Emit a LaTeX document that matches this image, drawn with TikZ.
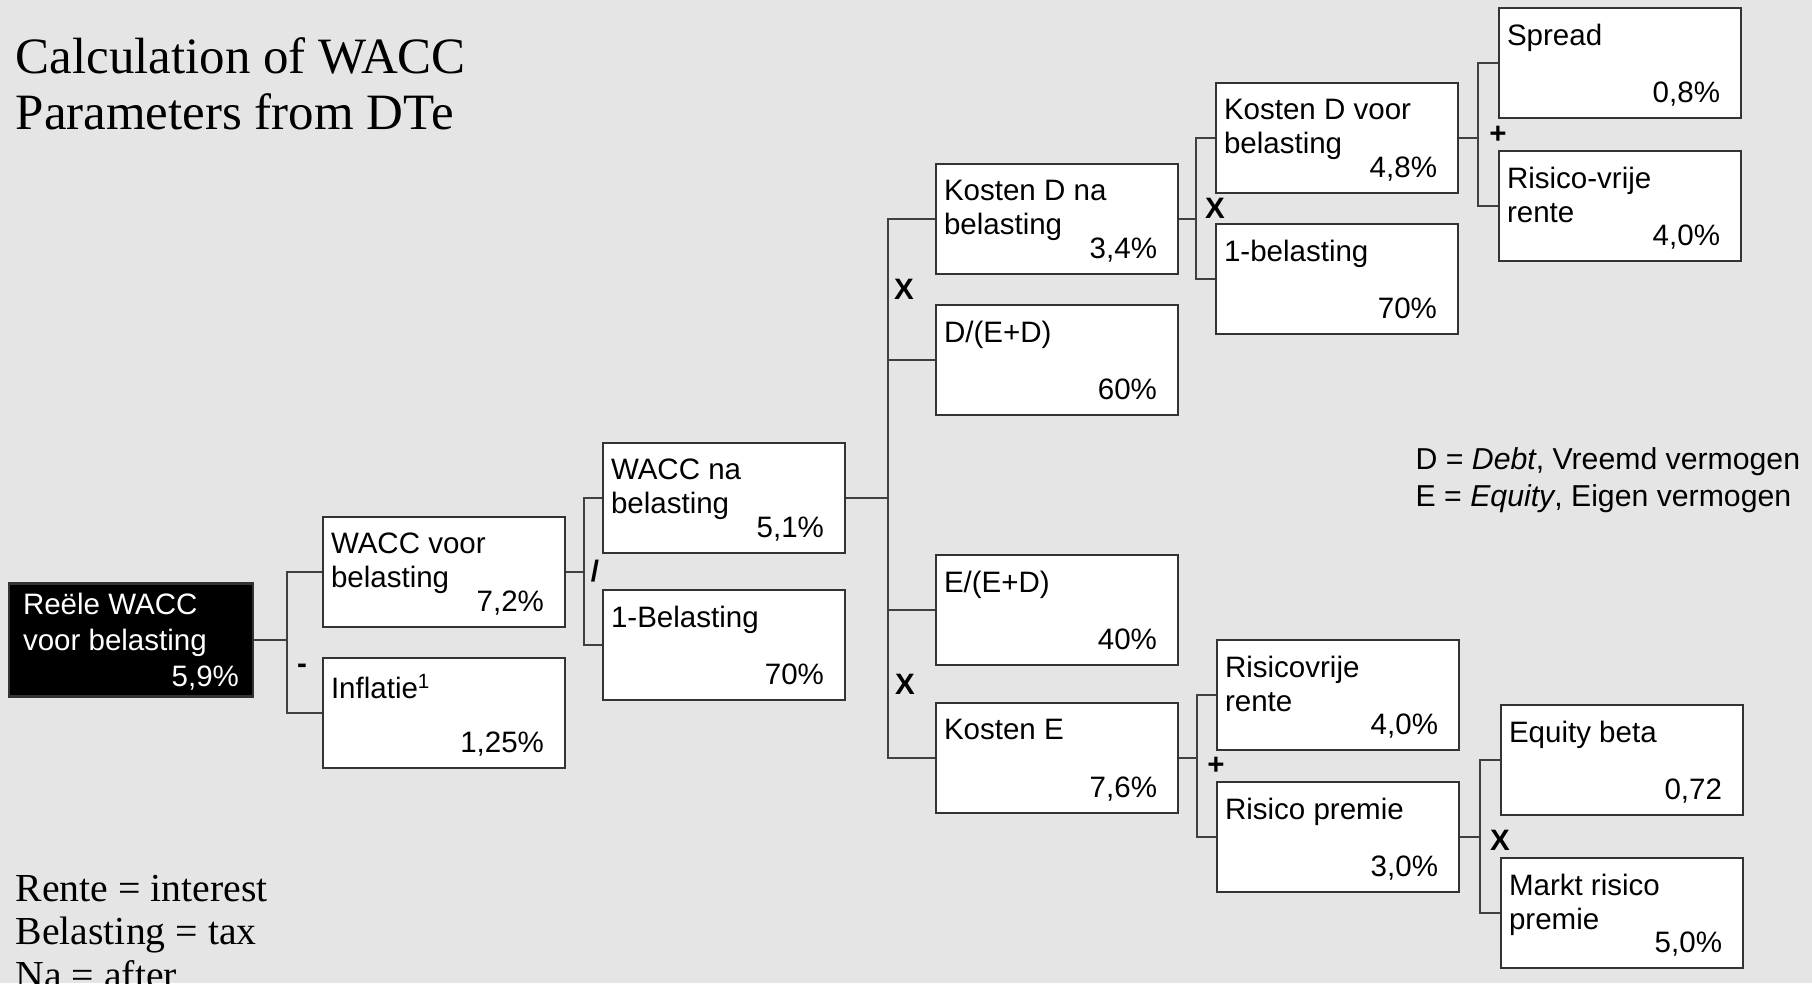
\documentclass[tikz,border=0pt]{standalone}
\usepackage{fontspec}
\usetikzlibrary{calc}
\newfontfamily\boxfont{Liberation Sans}
\newfontfamily\notefont{Liberation Serif}
% label top left, value bottom right
\newcommand{\kval}[2]{\parbox[c][0.78cm][s]{2.26cm}{\raggedright #1\par\nointerlineskip\vfill
  \makebox[\linewidth][r]{\smash{#2}\hspace*{0.13cm}}}}

\begin{document}
\begin{tikzpicture}[node distance=1.41cm,
  box/.style={draw=black!80, line width=0.6pt, fill=white, minimum width=2.42cm, minimum height=1.10cm,
    inner sep=0pt, font=\boxfont\fontsize{8.4pt}{9.7pt}\selectfont},
  rootbox/.style={box, fill=black, text=white, minimum width=2.44cm, minimum height=1.13cm},
  op/.style={inner sep=0pt, font=\boxfont\bfseries\fontsize{8.4pt}{9.7pt}\selectfont},
  link/.style={draw=black!75, line width=0.6pt}]
  \useasboundingbox (0,0) rectangle (18.12,-9.83);
  \fill[black!10] (0,0) rectangle (18.12,-9.83);

  \node[anchor=north west, align=left, inner sep=0pt, font=\notefont\fontsize{14.5pt}{15.9pt}\selectfont] (title)
    at (0.15,-0.37) {Calculation of WACC\\Parameters from DTe};

  \node[rootbox] (root) at (1.31,-6.40) {\parbox[c][0.93cm][t]{2.16cm}{\fontsize{8.4pt}{10.2pt}\selectfont
    Reële WACC\\voor belasting\\\makebox[\linewidth][r]{5,9\%}}};

  \node[box] (wvoor) at (4.44,-5.72) {\kval{WACC voor\\belasting}{7,2\%}};
  \node[box, below of=wvoor] (infl) {\kval{Inflatie\textsuperscript{1}}{1,25\%}};

  \node[box] (wna) at (7.24,-4.98) {\kval{WACC na\\belasting}{5,1\%}};
  \node[box, below of=wna, node distance=1.47cm] (bel1) {\kval{1-Belasting}{70\%}};

  \node[box] (kdna) at (10.57,-2.19) {\kval{Kosten D na\\belasting}{3,4\%}};
  \node[box, below of=kdna] (dratio) {\kval{D/(E+D)}{60\%}};
  \node[box, below of=dratio, node distance=2.50cm] (eratio) {\kval{E/(E+D)}{40\%}};
  \node[box, below of=eratio, node distance=1.48cm] (kE) {\kval{Kosten E}{7,6\%}};

  \node[box] (kdvoor) at (13.37,-1.38) {\kval{Kosten D voor\\belasting}{4,8\%}};
  \node[box, below of=kdvoor] (bel2) {\kval{1-belasting}{70\%}};
  \node[box] (rvrij) at (13.38,-6.95) {\kval{Risicovrije\\rente}{4,0\%}};
  \node[box, below of=rvrij, node distance=1.42cm] (rprem) {\kval{Risico premie}{3,0\%}};

  \node[box] (spread) at (16.20,-0.63) {\kval{Spread}{0,8\%}};
  \node[box, below of=spread, node distance=1.43cm] (rvrij2) {\kval{Risico-vrije\\rente}{4,0\%}};
  \node[box] (beta) at (16.22,-7.60) {\kval{Equity beta}{0,72}};
  \node[box, below of=beta, node distance=1.53cm] (markt) {\kval{Markt risico\\premie}{5,0\%}};

  % forks
  \draw[link] (root.east) -- ([xshift=-0.35cm]wvoor.west |- root.east);
  \draw[link] (wvoor.west) -- ++(-0.35,0) |- (infl.west);
  \draw[link] (wvoor.east) -- ([xshift=-0.18cm]wna.west |- wvoor.east);
  \draw[link] (wna.west) -- ++(-0.18,0) |- (bel1.west);
  \draw[link] (wna.east) -- ([xshift=-0.47cm]kdna.west |- wna.east);
  \draw[link] (kdna.west) -- ++(-0.47,0) |- (kE.west);
  \draw[link] (dratio.west) -- ++(-0.47,0);
  \draw[link] (eratio.west) -- ++(-0.47,0);
  \draw[link] (kdna.east) -- ([xshift=-0.19cm]kdvoor.west |- kdna.east);
  \draw[link] (kdvoor.west) -- ++(-0.19,0) |- (bel2.west);
  \draw[link] (kdvoor.east) -- ([xshift=-0.20cm]spread.west |- kdvoor.east);
  \draw[link] (spread.west) -- ++(-0.20,0) |- (rvrij2.west);
  \draw[link] (kE.east) -- ([xshift=-0.19cm]rvrij.west |- kE.east);
  \draw[link] (rvrij.west) -- ++(-0.19,0) |- (rprem.west);
  \draw[link] (rprem.east) -- ([xshift=-0.20cm]beta.west |- rprem.east);
  \draw[link] (beta.west) -- ++(-0.20,0) |- (markt.west);

  % operators
  \node[op] (minus) at ($(infl.north west)+(-0.20,-0.12)$) {-};
  \node[op] (div) at ($(wna.south west)!.5!(bel1.north west)+(-0.07,0)$) {/};
  \node[op] (mul1) at ($(kdna.south west)!.5!(dratio.north west)+(-0.31,0)$) {X};
  \node[op] (mul2) at ($(eratio.south west)!.5!(kE.north west)+(-0.30,0)$) {X};
  \node[op] (mul3) at ($(kdvoor.south west)!.5!(bel2.north west)$) {X};
  \node[op] (plus1) at ($(spread.south west)!.5!(rvrij2.north west)$) {+};
  \node[op] (plus2) at ($(rvrij.south west)!.5!(rprem.north west)$) {+};
  \node[op] (mul4) at ($(beta.south west)!.5!(markt.north west)+(0,-0.04)$) {X};

  \node[anchor=north west, align=left, inner sep=0pt, font=\boxfont\fontsize{8.6pt}{10.5pt}\selectfont] (legend)
    at (14.15,-4.47) {D = \textit{Debt}, Vreemd vermogen\\E = \textit{Equity}, Eigen vermogen};
  \node[anchor=north west, align=left, inner sep=0pt, font=\notefont\fontsize{11.3pt}{12.5pt}\selectfont] (gloss)
    at (0.15,-8.74) {Rente = interest\\Belasting = tax\\Na = after};
\end{tikzpicture}
\end{document}
